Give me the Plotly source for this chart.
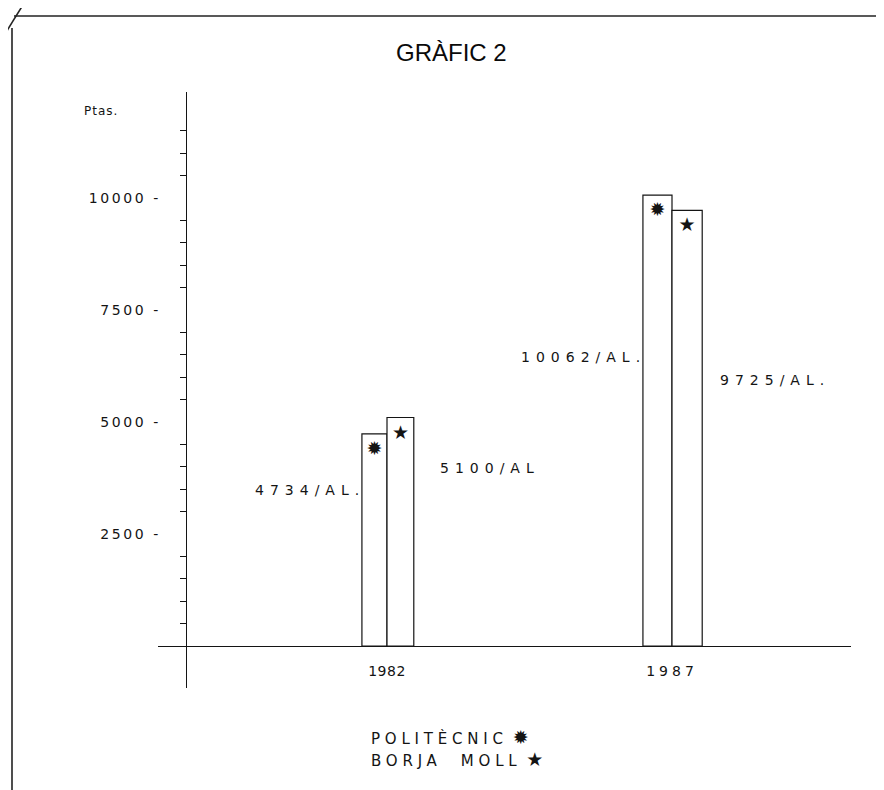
import plotly.graph_objects as go

# ---------------- data ----------------
years = [1982, 1987]
politecnic = [4734, 10062]
borja_moll = [5100, 9725]
value_labels_pol = ["4734/AL.", "10062/AL."]
value_labels_bm = ["5100/AL", "9725/AL."]
y_tickvals = [2500, 5000, 7500, 10000]
y_ticktext = ["2500 -", "5000 -", "7500 -", "10000 -"]
x_ticktext = ["1982", "1987"]
title_text = "GRÀFIC 2"
y_title = "Ptas."
legend_pol = "POLITÈCNIC"
legend_bm = "BORJA  MOLL"
sym_pol = "✹"
sym_bm = "★"

# ---------------- geometry (pixels of the 884x790 page) ----------------
OFF = 8                      # default page margin of the html body
W, H = 884 - OFF, 790 - OFF  # figure size
L_PX, R_PX, T_PX, B_PX = 158, 851, 92, 688   # plot area, page pixels
BASE_PX = 646          # pixel row of value 0
PX_PER_UNIT = 0.0448   # vertical pixels per peseta
X_REF_PX, X_PER_YR = 387, 57.0
YAXIS_PX = 186

y_range = [-(B_PX - BASE_PX) / PX_PER_UNIT, (BASE_PX - T_PX) / PX_PER_UNIT]
x_range = [years[0] - (X_REF_PX - L_PX) / X_PER_YR, years[0] + (R_PX - X_REF_PX) / X_PER_YR]


def px_x(px):
    return (px - L_PX) / (R_PX - L_PX)


def px_y(py):
    return (B_PX - py) / (B_PX - T_PX)


def spaced(t, ls):
    return f'<span style="letter-spacing:{ls}px">{t}</span>'


def big(sym, size):
    return f'<span style="font-size:{size}px">{sym}</span>'


FONT = "DejaVu Sans, Liberation Sans, sans-serif"
INK = "#141414"

fig = go.Figure()

fig.add_trace(go.Bar(
    x=years, y=politecnic, name=legend_pol,
    width=[0.44, 0.51], offset=[-0.44, -0.51],
    marker=dict(color="white", line=dict(color=INK, width=1.2)),
    text=[sym_pol, sym_pol], textposition="inside", insidetextanchor="end",
    textangle=0, constraintext="none",
    textfont=dict(size=19, color=INK, family="DejaVu Sans"),
    showlegend=False, hoverinfo="skip",
))
fig.add_trace(go.Bar(
    x=years, y=borja_moll, name=legend_bm,
    width=[0.47, 0.53], offset=[0, 0],
    marker=dict(color="white", line=dict(color=INK, width=1.2)),
    text=[sym_bm, sym_bm], textposition="inside", insidetextanchor="end",
    textangle=0, constraintext="none",
    textfont=dict(size=19, color=INK, family="DejaVu Sans"),
    showlegend=False, hoverinfo="skip",
))

annotations = []
lab_font = dict(family=FONT, size=14, color=INK)
# value labels: Politècnic to the left of its bar, Borja Moll to the right
pol_shift = [(-20, -56), (-24, -162)]
bm_shift = [(51, -50), (46, -170)]
for i, yr in enumerate(years):
    dx, dy = pol_shift[i]
    annotations.append(dict(x=yr, y=politecnic[i], xref="x", yref="y",
                            text=spaced(value_labels_pol[i], 6), showarrow=False,
                            xanchor="right", yanchor="middle", xshift=dx, yshift=dy,
                            font=lab_font))
    dx, dy = bm_shift[i]
    annotations.append(dict(x=yr, y=borja_moll[i], xref="x", yref="y",
                            text=spaced(value_labels_bm[i], 6), showarrow=False,
                            xanchor="left", yanchor="middle", xshift=dx, yshift=dy,
                            font=lab_font))

# title
annotations.append(dict(x=px_x(451), y=px_y(53), xref="paper", yref="paper",
                        text=title_text, showarrow=False, xanchor="center", yanchor="middle",
                        font=dict(family="Liberation Sans, Arial, sans-serif", size=24,
                                  color="#0a0a0a")))
# y unit
annotations.append(dict(x=px_x(82), y=px_y(111), xref="paper", yref="paper",
                        text=spaced(y_title, 1), showarrow=False, xanchor="left", yanchor="middle",
                        font=dict(family=FONT, size=12, color=INK)))
# legend block
annotations.append(dict(x=px_x(369), y=px_y(737), xref="paper", yref="paper",
                        text=spaced(legend_pol, 4.8) + " " + big(sym_pol, 19), showarrow=False,
                        xanchor="left", yanchor="middle",
                        font=dict(family=FONT, size=15, color=INK)))
annotations.append(dict(x=px_x(369), y=px_y(759), xref="paper", yref="paper",
                        text=spaced(legend_bm, 4.8) + " " + big(sym_bm, 19), showarrow=False,
                        xanchor="left", yanchor="middle",
                        font=dict(family=FONT, size=15, color=INK)))

# page frame (scanned border)
frame = dict(type="line", xref="paper", yref="paper", line=dict(color="#222", width=1.6))
shapes = [
    dict(frame, x0=px_x(14), x1=px_x(890), y0=px_y(16), y1=px_y(16)),
    dict(frame, x0=px_x(12), x1=px_x(12), y0=px_y(28), y1=px_y(800)),
    dict(frame, x0=px_x(0), x1=px_x(26), y0=px_y(42), y1=px_y(0)),
]

minor_vals = [v for v in range(500, 12000, 500) if v % 2500 != 0]

fig.update_layout(
    width=W, height=H, autosize=False,
    margin=dict(l=L_PX - OFF, r=W + OFF - R_PX, t=T_PX - OFF, b=H + OFF - B_PX, pad=0),
    paper_bgcolor="white", plot_bgcolor="white",
    barmode="overlay", showlegend=False,
    annotations=annotations, shapes=shapes,
    xaxis=dict(range=x_range, showgrid=False, zeroline=False,
               showline=True, linecolor=INK, linewidth=1.4,
               anchor="free", position=px_y(BASE_PX),
               tickmode="array", tickvals=years,
               ticktext=[spaced(x_ticktext[0], 0.5), spaced(x_ticktext[1], 4)],
               ticks="", ticklabelstandoff=12,
               tickfont=dict(family=FONT, size=14, color=INK), fixedrange=True),
    yaxis=dict(range=y_range, showgrid=False, zeroline=False,
               showline=True, linecolor=INK, linewidth=1.4,
               anchor="free", position=px_x(YAXIS_PX),
               tickmode="array", tickvals=y_tickvals,
               ticktext=[spaced(t, 2.6) for t in y_ticktext],
               ticks="", ticklabelstandoff=22,
               tickfont=dict(family=FONT, size=14, color=INK),
               minor=dict(tickmode="array", tickvals=minor_vals, ticks="outside",
                          ticklen=6, tickwidth=1.3, tickcolor=INK, showgrid=False),
               fixedrange=True),
)

fig.write_html("out.html")
